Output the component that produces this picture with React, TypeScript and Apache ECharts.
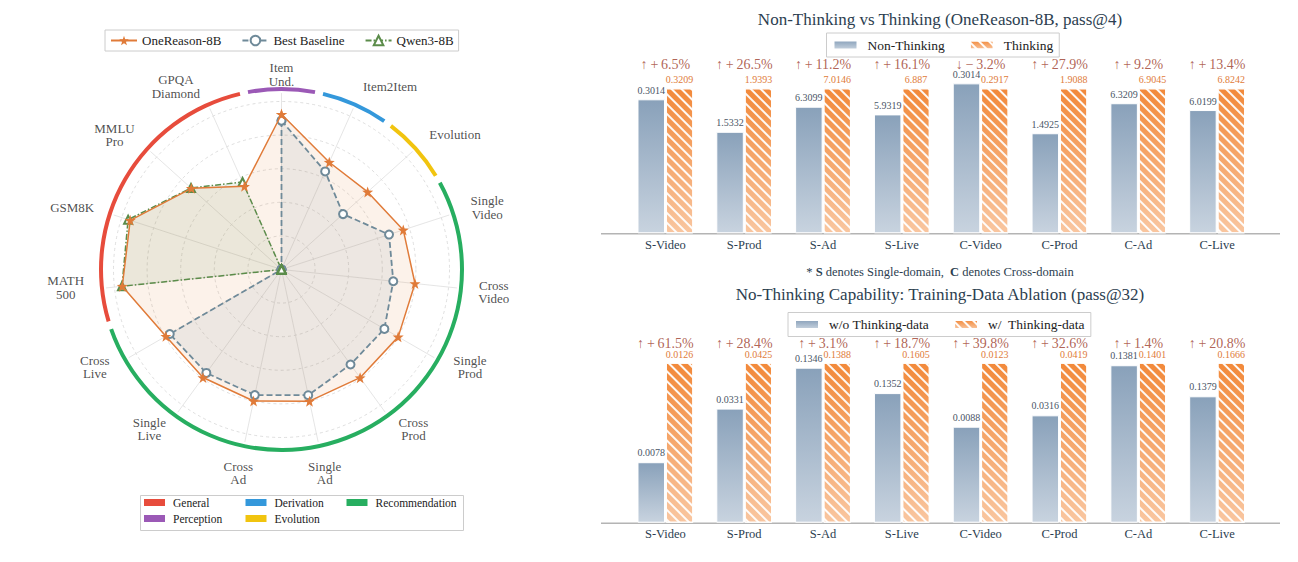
import React, { useEffect, useRef } from "react";
import * as echarts from "echarts";

// ---------------- Radar data ----------------
const radarAxes = [
  "Item\nUnd.", "Item2Item", "Evolution", "Single\nVideo", "Cross\nVideo",
  "Single\nProd", "Cross\nProd", "Single\nAd", "Cross\nAd", "Single\nLive",
  "Cross\nLive", "MATH\n500", "GSM8K", "MMLU\nPro", "GPQA\nDiamond",
];
const oneReason = [0.924, 0.699, 0.69, 0.762, 0.799, 0.802, 0.796, 0.801, 0.8, 0.795, 0.795, 0.953, 0.947, 0.722, 0.542];
const bestBaseline = [0.886, 0.639, 0.493, 0.673, 0.669, 0.707, 0.699, 0.765, 0.764, 0.761, 0.768, 0, 0, 0, 0];
const qwen3 = [0, 0, 0, 0, 0, 0, 0, 0, 0, 0, 0, 0.955, 0.96, 0.725, 0.57];

const taskGroups = ["Perception", "Derivation", "Evolution", "Recommendation", "General"];
const taskGroupAxes = [1, 1, 1, 8, 4];

// ---------------- Bar data ----------------
const barCats = ["S-Video", "S-Prod", "S-Ad", "S-Live", "C-Video", "C-Prod", "C-Ad", "C-Live"];

const nonThinkVals = [0.3014, 1.5332, 6.3099, 5.9319, 0.3014, 1.4925, 6.3209, 6.0199];
const thinkVals = [0.3209, 1.9393, 7.0146, 6.887, 0.2917, 1.9088, 6.9045, 6.8242];
const thinkGain = [6.5, 26.5, 11.2, 16.1, -3.2, 27.9, 9.2, 13.4];
const nonThinkHeight = [0.924, 0.7, 0.873, 0.82, 1.034, 0.69, 0.897, 0.85];
const thinkHeight = [1, 1, 1, 1, 1, 1, 1, 1];

const woDataVals = [0.0078, 0.0331, 0.1346, 0.1352, 0.0088, 0.0316, 0.1381, 0.1379];
const wDataVals = [0.0126, 0.0425, 0.1388, 0.1605, 0.0123, 0.0419, 0.1401, 0.1666];
const dataGain = [61.5, 28.4, 3.1, 18.7, 39.8, 32.6, 1.4, 20.8];
const woDataHeight = [0.378, 0.713, 0.969, 0.81, 0.6, 0.671, 0.984, 0.79];
const wDataHeight = [1, 1, 1, 1, 1, 1, 1, 1];

// ---------------- Layout / style ----------------
const FONT = "'Liberation Serif', 'DejaVu Serif', serif";
const CENTER: [number, number] = [281.5, 269.5];
// where each axis name sits, in polar (radius, angle-index) units
const labelRadius = [1.16, 1.265, 1.307, 1.279, 1.271, 1.263, 1.232, 1.237, 1.237, 1.234, 1.254, 1.289, 1.3, 1.277, 1.257];
const labelAngle = [0, 1.28, 2.175, 3.05, 4.0, 4.89, 5.85, 7.0, 8.0, 9.15, 10.1, 11.05, 11.94, 12.87, 13.75];
const groupColors: Record<string, string> = {
  General: "#e74c3c",
  Perception: "#9b59b6",
  Derivation: "#3498db",
  Evolution: "#f1c40f",
  Recommendation: "#27ae60",
};
const C_ONE = "#e07b39";
const C_BASE = "#6f8a99";
const C_QWEN = "#5b8c4a";
const STAR = "path://M0,-10L2.35,-3.24L9.51,-3.09L3.8,1.24L5.88,8.09L0,4L-5.88,8.09L-3.8,1.24L-9.51,-3.09L-2.35,-3.24Z";

const closeLoop = (vals: number[]) => [...vals.map((v, i) => [v, i]), [vals[0], vals.length]];

const fillSeries = (vals: number[], fill: string) => ({
  type: "custom",
  coordinateSystem: "polar",
  silent: true,
  z: 1,
  data: [[0, 0]],
  renderItem: (_p: any, api: any) => {
    const pts = vals.map((v, i) => api.coord([v, i]));
    return { type: "polygon", shape: { points: pts }, style: { fill, stroke: "none" } };
  },
});

const blueGrad = () =>
  new echarts.graphic.LinearGradient(0, 0, 0, 1, [
    { offset: 0, color: "#89a1ba" },
    { offset: 1, color: "#c8d3df" },
  ]);
const orangeGrad = () =>
  new echarts.graphic.LinearGradient(0, 0, 0, 1, [
    { offset: 0, color: "#f2893a" },
    { offset: 1, color: "#f9c6a0" },
  ]);
const hatch = {
  symbol: "rect",
  symbolSize: 1,
  dashArrayX: [1, 0],
  dashArrayY: [2, 5],
  rotation: Math.PI / 4,
  color: "rgba(255,255,255,0.95)",
};

const fmtGain = (g: number) =>
  g >= 0 ? `↑\u2009+\u2009${g.toFixed(1)}%` : `↓\u2009\u2212\u2009${Math.abs(g).toFixed(1)}%`;

function barPanel(
  idx: number,
  names: [string, string],
  lowH: number[],
  highH: number[],
  lowVals: number[],
  highVals: number[],
  gains: number[],
  lowDist: number,
  highDist: number,
  gainDist: number
) {
  return [
    {
      type: "bar",
      name: names[0],
      xAxisIndex: idx,
      yAxisIndex: idx,
      data: lowH,
      barWidth: 27.5,
      barGap: "3%",
      itemStyle: { color: blueGrad(), borderColor: "#fff", borderWidth: 1 },
      label: {
        show: true,
        position: "top",
        distance: lowDist,
        formatter: (p: any) => String(lowVals[p.dataIndex]),
        color: "#4a5566",
        fontSize: 10,
      },
      silent: true,
    },
    {
      type: "bar",
      name: names[1],
      xAxisIndex: idx,
      yAxisIndex: idx,
      data: highH,
      barWidth: 27.5,
      itemStyle: { color: orangeGrad(), borderColor: "#fff", borderWidth: 1, decal: hatch },
      label: {
        show: true,
        position: "top",
        distance: highDist,
        formatter: (p: any) => String(highVals[p.dataIndex]),
        color: "#e07b39",
        fontSize: 10,
      },
      silent: true,
    },
    {
      type: "scatter",
      xAxisIndex: idx,
      yAxisIndex: idx,
      data: highH,
      symbolSize: 1,
      itemStyle: { color: "transparent" },
      label: {
        show: true,
        position: "top",
        distance: gainDist,
        formatter: (p: any) => fmtGain(gains[p.dataIndex]),
        color: "#9c3b2a",
        fontSize: 14,
      },
      silent: true,
      z: 5,
    },
  ];
}

function buildOption(): any {
  const arcLegendPos: Record<string, [number, number]> = {
    General: [144, 496.5],
    Derivation: [245.5, 496.5],
    Recommendation: [346.5, 496.5],
    Perception: [144, 512.5],
    Evolution: [245.5, 512.5],
  };
  const arcLegends = Object.keys(arcLegendPos).map((name) => ({
    data: [name],
    left: arcLegendPos[name][0],
    top: arcLegendPos[name][1],
    padding: 0,
    icon: "rect",
    itemWidth: 21,
    itemHeight: 7,
    selectedMode: false,
    textStyle: { fontSize: 11.5, color: "#222", fontFamily: FONT, padding: [0, 0, 0, 3] },
  }));

  const barLegend = (names: string[], left: number, top: number) => ({
    data: names,
    left,
    top,
    padding: [5, 6, 5, 6],
    icon: "rect",
    itemWidth: 24,
    itemHeight: 9,
    itemGap: 24,
    borderColor: "#cccccc",
    borderWidth: 1,
    selectedMode: false,
    textStyle: { fontSize: 13.5, color: "#222", fontFamily: FONT, padding: [0, 0, 0, 5] },
  });

  return {
    animation: false,
    backgroundColor: "#ffffff",
    textStyle: { fontFamily: FONT },
    title: [
      {
        text: "Non-Thinking vs Thinking (OneReason-8B, pass@4)",
        left: 940,
        top: 11,
        textAlign: "center",
        padding: 0,
        textStyle: { fontSize: 17, fontWeight: "normal", color: "#2c3e50", fontFamily: FONT },
      },
      {
        text: "{n|* }{b|S}{n| denotes Single-domain,  }{b|C}{n| denotes Cross-domain}",
        left: 940,
        top: 265,
        textAlign: "center",
        padding: 0,
        textStyle: {
          fontFamily: FONT,
          fontWeight: "normal",
          fontSize: 12.5,
          rich: {
            n: { fontSize: 12.5, color: "#2c3e50", fontWeight: "normal", fontFamily: FONT },
            b: { fontSize: 12.5, color: "#2c3e50", fontWeight: "bold", fontFamily: FONT },
          },
        },
      },
      {
        text: "No-Thinking Capability: Training-Data Ablation (pass@32)",
        left: 940,
        top: 286,
        textAlign: "center",
        padding: 0,
        textStyle: { fontSize: 17, fontWeight: "normal", color: "#2c3e50", fontFamily: FONT },
      },
    ],
    legend: [
      {
        data: ["OneReason-8B", "Best Baseline", "Qwen3-8B"],
        left: 105,
        top: 30,
        padding: [4, 5, 4, 5],
        itemWidth: 26,
        itemHeight: 12,
        itemGap: 20,
        borderColor: "#cccccc",
        borderWidth: 1,
        selectedMode: false,
        textStyle: { fontSize: 13, color: "#222", fontFamily: FONT },
      },
      barLegend(["Non-Thinking", "Thinking"], 826.5, 33),
      barLegend(["w/o Thinking-data", "w/  Thinking-data"], 788, 312.5),
      ...arcLegends,
    ],
    polar: { center: CENTER, radius: 176.4 },
    angleAxis: {
      type: "value",
      min: 0,
      max: radarAxes.length,
      interval: 1,
      startAngle: 90,
      clockwise: true,
      axisLine: { show: false },
      axisTick: { show: false },
      axisLabel: { show: false },
      splitLine: { show: true, lineStyle: { color: "#dedede", width: 0.8 } },
    },
    radiusAxis: {
      type: "value",
      min: 0,
      max: 1.05,
      interval: 0.2,
      axisLine: { show: false },
      axisTick: { show: false },
      axisLabel: { show: false },
      splitLine: {
        show: true,
        lineStyle: {
          color: ["#d6d6d6", "#d6d6d6", "#d6d6d6", "#d6d6d6", "#d6d6d6", "#d6d6d6", "rgba(0,0,0,0)"],
          type: [3, 3],
          width: 0.8,
        },
      },
    },
    grid: [
      { left: 626, width: 630.5, top: 59.3, height: 174, outerBoundsMode: "none" },
      { left: 626, width: 630.5, top: 330.7, height: 192, outerBoundsMode: "none" },
    ],
    xAxis: [0, 1].map((gi) => ({
      gridIndex: gi,
      type: "category",
      data: barCats,
      axisLine: { show: false },
      axisTick: { show: false },
      axisLabel: { fontSize: 12.5, color: "#2c3e50", margin: 5, fontFamily: FONT },
    })),
    yAxis: [0, 1].map((gi) => ({ gridIndex: gi, type: "value", min: 0, max: 1.2, show: false })),
    graphic: [
      {
        type: "rect",
        shape: { x: 140.5, y: 495.5, width: 323, height: 35 },
        style: { fill: "none", stroke: "#cccccc", lineWidth: 1 },
        silent: true,
      },
      {
        type: "line",
        shape: { x1: 601, y1: 233.8, x2: 1280, y2: 233.8 },
        style: { stroke: "#b4b4b4", lineWidth: 1.6 },
        silent: true,
      },
      {
        type: "line",
        shape: { x1: 601, y1: 523.2, x2: 1280, y2: 523.2 },
        style: { stroke: "#b4b4b4", lineWidth: 1.6 },
        silent: true,
      },
    ],
    series: [
      {
        type: "pie",
        center: CENTER,
        radius: [178.5, 182.5],
        startAngle: 102,
        clockwise: true,
        padAngle: 2.6,
        silent: true,
        label: { show: false },
        labelLine: { show: false },
        itemStyle: { borderWidth: 0 },
        data: taskGroups.map((g, i) => ({ name: g, value: taskGroupAxes[i], itemStyle: { color: groupColors[g] } })),
      },
      fillSeries(oneReason, "rgba(230,126,52,0.10)"),
      fillSeries(bestBaseline, "rgba(111,138,153,0.10)"),
      fillSeries(qwen3, "rgba(91,140,74,0.10)"),
      {
        type: "line",
        name: "Best Baseline",
        coordinateSystem: "polar",
        data: closeLoop(bestBaseline),
        symbol: "emptyCircle",
        symbolSize: 8,
        lineStyle: { color: C_BASE, width: 1.8, type: [6, 3] },
        itemStyle: { color: C_BASE, borderColor: C_BASE, borderWidth: 1.8 },
        silent: true,
        z: 3,
      },
      {
        type: "line",
        name: "Qwen3-8B",
        coordinateSystem: "polar",
        data: closeLoop(qwen3),
        symbol: "emptyTriangle",
        symbolSize: 8,
        lineStyle: { color: C_QWEN, width: 1.5, type: [6, 2, 1.5, 2] },
        itemStyle: { color: C_QWEN, borderColor: C_QWEN, borderWidth: 1.4 },
        silent: true,
        z: 3,
      },
      {
        type: "line",
        name: "OneReason-8B",
        coordinateSystem: "polar",
        data: closeLoop(oneReason),
        symbol: STAR,
        symbolSize: 11,
        lineStyle: { color: C_ONE, width: 1.5 },
        itemStyle: { color: C_ONE },
        silent: true,
        z: 4,
      },
      {
        type: "scatter",
        coordinateSystem: "polar",
        clip: false,
        data: radarAxes.map((_, i) => [labelRadius[i], labelAngle[i]]),
        symbolSize: 1,
        itemStyle: { color: "transparent" },
        silent: true,
        label: {
          show: true,
          position: "inside",
          formatter: (p: any) => radarAxes[p.dataIndex],
          fontSize: 13,
          lineHeight: 13.5,
          color: "#222",
          fontFamily: FONT,
          align: "center",
          verticalAlign: "middle",
        },
      },
      ...barPanel(0, ["Non-Thinking", "Thinking"], nonThinkHeight, thinkHeight, nonThinkVals, thinkVals, thinkGain, 4, 4, 16),
      ...barPanel(1, ["w/o Thinking-data", "w/  Thinking-data"], woDataHeight, wDataHeight, woDataVals, wDataVals, dataGain, 4.5, 3.5, 11.5),
    ],
  };
}

export default function App() {
  const ref = useRef<HTMLDivElement>(null);
  useEffect(() => {
    if (!ref.current) return;
    const chart = echarts.init(ref.current, null, { renderer: "svg" });
    chart.setOption(buildOption());
    return () => chart.dispose();
  }, []);
  return (
    <div
      ref={ref}
      style={{ position: "absolute", left: 0, top: 0, width: 1298, height: 562, background: "#fff" }}
    />
  );
}
